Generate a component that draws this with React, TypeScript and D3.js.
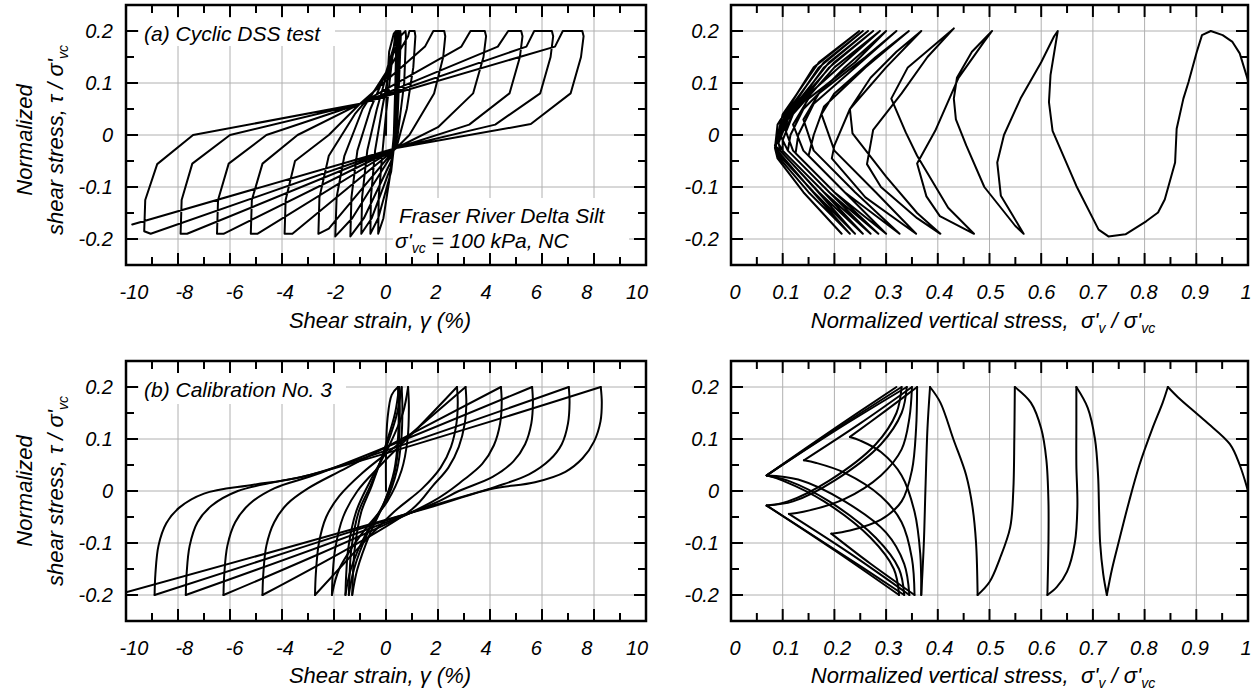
import React from "react";
import * as d3 from "d3";

type Pt = [number, number];

// ---------- axis ticks ----------
const strainMajor = [-10, -8, -6, -4, -2, 0, 2, 4, 6, 8, 10];
const strainMinor = [-9, -7, -5, -3, -1, 1, 3, 5, 7, 9];
const strainLabels = ["-10", "-8", "-6", "-4", "-2", "0", "2", "4", "6", "8", "10"];
const vertMajor = [0, 0.1, 0.2, 0.3, 0.4, 0.5, 0.6, 0.7, 0.8, 0.9, 1];
const vertMinor = [0.05, 0.15, 0.25, 0.35, 0.45, 0.55, 0.65, 0.75, 0.85, 0.95];
const vertLabels = ["0", "0.1", "0.2", "0.3", "0.4", "0.5", "0.6", "0.7", "0.8", "0.9", "1"];
const tauMajor = [-0.2, -0.1, 0, 0.1, 0.2];
const tauMinor = [-0.15, -0.05, 0.05, 0.15];
const tauLabels = ["-0.2", "-0.1", "0", "0.1", "0.2"];

// ---------- (a) Cyclic DSS test: shear strain (%) vs tau/sigma'vc ----------
const dssStrainHalfCycles: Pt[][] = [
  [[0, 0], [0.02, 0.08], [0.12, 0.16], [0.3, 0.195], [0.38, 0.2]],
  [[0.38, 0.2], [0.4, 0.19], [0.36, 0.1], [0.3, 0.0], [0.15, -0.08], [-0.1, -0.16], [-0.3, -0.19]],
  [[-0.3, -0.19], [-0.28, -0.12], [-0.15, -0.04], [0.0, 0.04], [0.2, 0.13], [0.35, 0.19], [0.42, 0.2]],
  [[0.42, 0.2], [0.44, 0.19], [0.4, 0.1], [0.36, 0.0], [0.2, -0.07], [-0.3, -0.16], [-0.6, -0.19]],
  [[-0.6, -0.19], [-0.58, -0.12], [-0.42, -0.03], [-0.15, 0.05], [0.15, 0.13], [0.38, 0.19], [0.46, 0.2]],
  [[0.46, 0.2], [0.48, 0.19], [0.44, 0.1], [0.38, 0.0], [0.2, -0.06], [-0.55, -0.16], [-0.95, -0.19]],
  [[-0.95, -0.19], [-0.92, -0.12], [-0.72, -0.03], [-0.35, 0.05], [0.1, 0.13], [0.4, 0.19], [0.5, 0.2]],
  [[0.5, 0.2], [0.52, 0.19], [0.47, 0.1], [0.4, 0.0], [0.2, -0.05], [-0.85, -0.16], [-1.37, -0.195]],
  [[-1.37, -0.195], [-1.33, -0.12], [-1.1, -0.03], [-0.6, 0.05], [0.0, 0.12], [0.42, 0.19], [0.55, 0.2]],
  [[0.55, 0.2], [0.57, 0.19], [0.5, 0.1], [0.42, 0.0], [0.2, -0.04], [-1.3, -0.16], [-1.95, -0.195]],
  [[-1.95, -0.195], [-1.9, -0.12], [-1.6, -0.04], [-0.9, 0.05], [0.0, 0.12], [0.55, 0.19], [0.75, 0.2]],
  [[0.75, 0.2], [0.77, 0.19], [0.7, 0.1], [0.45, 0.0], [0.3, -0.03], [-2.2, -0.18], [-2.6, -0.19]],
  [[-2.6, -0.19], [-2.56, -0.12], [-2.2, -0.04], [-1.2, 0.04], [-0.2, 0.1], [0.85, 0.19], [0.9, 0.2], [1.1, 0.2]],
  [[1.1, 0.2], [1.13, 0.19], [1.05, 0.13], [0.8, 0.05], [0.4, -0.025], [-3.6, -0.19], [-3.9, -0.19]],
  [[-3.9, -0.19], [-3.86, -0.125], [-3.5, -0.05], [-2.2, 0.0], [-1.0, 0.06], [1.5, 0.17], [1.82, 0.2], [2.24, 0.2]],
  [[2.24, 0.2], [2.28, 0.19], [2.2, 0.15], [1.85, 0.08], [0.9, 0.0], [0.4, -0.025], [-4.95, -0.19], [-5.2, -0.19]],
  [[-5.2, -0.19], [-5.16, -0.125], [-4.75, -0.055], [-3.4, 0.0], [-1.0, 0.06], [2.9, 0.17], [3.25, 0.2], [3.8, 0.2]],
  [[3.8, 0.2], [3.85, 0.19], [3.75, 0.15], [3.35, 0.08], [2.0, 0.015], [0.4, -0.025], [-6.25, -0.19], [-6.5, -0.19]],
  [[-6.5, -0.19], [-6.46, -0.125], [-6.05, -0.055], [-4.6, 0.0], [-1.0, 0.06], [4.3, 0.17], [4.7, 0.2], [5.2, 0.2]],
  [[5.2, 0.2], [5.25, 0.19], [5.15, 0.15], [4.75, 0.08], [3.2, 0.02], [0.4, -0.025], [-7.65, -0.19], [-7.9, -0.19]],
  [[-7.9, -0.19], [-7.86, -0.125], [-7.45, -0.055], [-6.0, 0.0], [-1.0, 0.06], [5.4, 0.17], [5.7, 0.2], [6.38, 0.2]],
  [[6.38, 0.2], [6.43, 0.19], [6.33, 0.15], [5.93, 0.08], [4.2, 0.02], [0.4, -0.025], [-9.05, -0.19], [-9.3, -0.185]],
  [[-9.3, -0.185], [-9.26, -0.125], [-8.8, -0.056], [-7.42, 0.0], [-1.0, 0.06], [6.5, 0.17], [6.8, 0.2], [7.55, 0.2]],
  [[7.55, 0.2], [7.6, 0.19], [7.5, 0.15], [7.1, 0.08], [5.57, 0.021], [0.4, -0.025], [-9.76, -0.172]],
];

// ---------- (a) Cyclic DSS test: sigma'v/sigma'vc vs tau/sigma'vc ----------
const dssPathHalfCycles: Pt[][] = [
  [[1.0, 0.0], [1.0, 0.105], [0.984, 0.157], [0.97, 0.179], [0.951, 0.192], [0.928, 0.2]],
  [[0.928, 0.2], [0.911, 0.192], [0.901, 0.16], [0.885, 0.102], [0.875, 0.07], [0.862, 0.012], [0.859, -0.053], [0.839, -0.124], [0.826, -0.149], [0.803, -0.166], [0.763, -0.191], [0.73, -0.195]],
  [[0.73, -0.195], [0.711, -0.182], [0.668, -0.098], [0.622, 0.008], [0.615, 0.063], [0.618, 0.115], [0.632, 0.2]],
  [[0.632, 0.2], [0.625, 0.19], [0.6, 0.14], [0.56, 0.07], [0.528, 0.0], [0.515, -0.053], [0.522, -0.117], [0.545, -0.155], [0.566, -0.19]],
  [[0.566, -0.19], [0.55, -0.175], [0.49, -0.1], [0.455, -0.02], [0.435, 0.03], [0.431, 0.07], [0.437, 0.11], [0.466, 0.16], [0.505, 0.2]],
  [[0.505, 0.2], [0.49, 0.18], [0.44, 0.11], [0.395, 0.008], [0.36, -0.055], [0.378, -0.118], [0.404, -0.156], [0.47, -0.19]],
  [[0.47, -0.19], [0.42, -0.14], [0.36, -0.04], [0.338, 0.005], [0.31, 0.07], [0.342, 0.13], [0.39, 0.17], [0.431, 0.205]],
  [[0.431, 0.205], [0.38, 0.15], [0.33, 0.08], [0.275, 0.01], [0.263, -0.056], [0.29, -0.1], [0.36, -0.16], [0.405, -0.19]],
  [[0.405, -0.19], [0.36, -0.15], [0.3, -0.08], [0.235, 0.003], [0.23, 0.05], [0.27, 0.11], [0.32, 0.16], [0.368, 0.2]],
  [[0.368, 0.2], [0.3, 0.13], [0.23, 0.05], [0.2, -0.02], [0.195, -0.045], [0.26, -0.12], [0.358, -0.19]],
  [[0.358, -0.19], [0.28, -0.11], [0.2, -0.03], [0.175, 0.04], [0.2, 0.08], [0.28, 0.15], [0.344, 0.2]],
  [[0.344, 0.2], [0.26, 0.13], [0.18, 0.055], [0.16, 0.0], [0.15, -0.04], [0.22, -0.11], [0.326, -0.19]],
  [[0.326, -0.19], [0.24, -0.11], [0.16, -0.03], [0.14, 0.03], [0.17, 0.08], [0.26, 0.15], [0.32, 0.2]],
  [[0.32, 0.2], [0.24, 0.13], [0.16, 0.06], [0.13, 0.0], [0.125, -0.035], [0.2, -0.11], [0.3, -0.19]],
  [[0.3, -0.19], [0.22, -0.11], [0.14, -0.03], [0.12, 0.02], [0.15, 0.07], [0.24, 0.14], [0.3, 0.2]],
  [[0.3, 0.2], [0.22, 0.13], [0.14, 0.05], [0.115, 0.0], [0.11, -0.03], [0.19, -0.11], [0.285, -0.19]],
  [[0.285, -0.19], [0.2, -0.11], [0.12, -0.03], [0.105, 0.01], [0.13, 0.06], [0.22, 0.14], [0.288, 0.2]],
  [[0.288, 0.2], [0.2, 0.13], [0.12, 0.04], [0.1, -0.01], [0.1, -0.03], [0.18, -0.11], [0.27, -0.19]],
  [[0.27, -0.19], [0.18, -0.1], [0.11, -0.03], [0.095, 0.0], [0.12, 0.05], [0.2, 0.14], [0.275, 0.2]],
  [[0.275, 0.2], [0.19, 0.13], [0.11, 0.03], [0.092, -0.015], [0.095, -0.03], [0.17, -0.11], [0.255, -0.19]],
  [[0.255, -0.19], [0.17, -0.1], [0.1, -0.03], [0.088, -0.01], [0.11, 0.04], [0.19, 0.14], [0.265, 0.2]],
  [[0.265, 0.2], [0.18, 0.13], [0.1, 0.02], [0.087, -0.02], [0.09, -0.035], [0.16, -0.11], [0.24, -0.19]],
  [[0.24, -0.19], [0.16, -0.1], [0.095, -0.03], [0.085, -0.02], [0.105, 0.04], [0.18, 0.14], [0.255, 0.2]],
  [[0.255, 0.2], [0.17, 0.13], [0.095, 0.02], [0.085, -0.024], [0.09, -0.04], [0.15, -0.11], [0.23, -0.19]],
  [[0.23, -0.19], [0.15, -0.1], [0.09, -0.03], [0.085, -0.024], [0.1, 0.04], [0.17, 0.14], [0.248, 0.2]],
  [[0.248, 0.2], [0.16, 0.13], [0.09, 0.02], [0.085, -0.025], [0.09, -0.045], [0.14, -0.11], [0.214, -0.19]],
];

// ---------- (b) Calibration No. 3: shear strain vs tau/sigma'vc ----------
const calStrainHalfCycles: Pt[][] = [
  [[0, 0], [0, 0.07], [0.06, 0.14], [0.22, 0.185], [0.46, 0.2]],
  [[0.46, 0.2], [0.49, 0.16], [0.46, 0.1], [0.32, 0.04], [-0.05, -0.02], [-0.6, -0.08], [-1.1, -0.15], [-1.3, -0.2]],
  [[-1.3, -0.2], [-1.27, -0.16], [-1.2, -0.11], [-0.95, -0.04], [-0.55, 0.01], [0.0, 0.09], [0.35, 0.15], [0.5, 0.2]],
  [[0.5, 0.2], [0.53, 0.16], [0.5, 0.1], [0.35, 0.04], [-0.05, -0.02], [-0.7, -0.08], [-1.23, -0.15], [-1.43, -0.2]],
  [[-1.43, -0.2], [-1.4, -0.16], [-1.33, -0.11], [-1.05, -0.04], [-0.6, 0.01], [0.05, 0.09], [0.43, 0.15], [0.6, 0.2]],
  [[0.6, 0.2], [0.63, 0.16], [0.59, 0.1], [0.42, 0.04], [0.0, -0.02], [-0.75, -0.08], [-1.35, -0.15], [-1.56, -0.2]],
  [[-1.56, -0.2], [-1.53, -0.16], [-1.45, -0.11], [-1.15, -0.04], [-0.65, 0.015], [0.15, 0.09], [0.65, 0.15], [0.85, 0.2]],
  [[0.85, 0.2], [0.88, 0.16], [0.83, 0.1], [0.6, 0.04], [0.05, -0.02], [-0.9, -0.08], [-1.8, -0.15], [-2.08, -0.2]],
  [[-2.08, -0.2], [-2.05, -0.16], [-1.95, -0.11], [-1.65, -0.05], [-1.1, 0.0], [-0.2, 0.05], [1.2, 0.12], [2.73, 0.2]],
  [[2.73, 0.2], [2.76, 0.17], [2.71, 0.13], [2.5, 0.085], [2.1, 0.045], [1.4, 0.005], [0.2, -0.045], [-2.73, -0.2]],
  [[-2.73, -0.2], [-2.7, -0.16], [-2.58, -0.1], [-2.3, -0.05], [-1.8, -0.01], [-0.9, 0.035], [0.6, 0.095], [3.06, 0.2]],
  [[3.06, 0.2], [3.09, 0.17], [3.03, 0.13], [2.8, 0.085], [2.4, 0.045], [1.8, 0.01], [1.0, -0.035], [-4.75, -0.2]],
  [[-4.75, -0.2], [-4.72, -0.16], [-4.6, -0.105], [-4.3, -0.06], [-3.8, -0.025], [-3.0, 0.005], [-1.5, 0.045], [4.42, 0.2]],
  [[4.42, 0.2], [4.45, 0.17], [4.39, 0.13], [4.15, 0.088], [3.7, 0.052], [3.0, 0.022], [1.8, -0.02], [-6.25, -0.2]],
  [[-6.25, -0.2], [-6.22, -0.16], [-6.1, -0.105], [-5.8, -0.06], [-5.25, -0.025], [-4.3, 0.005], [-2.5, 0.035], [5.62, 0.2]],
  [[5.62, 0.2], [5.65, 0.17], [5.59, 0.13], [5.35, 0.09], [4.9, 0.057], [4.1, 0.027], [2.8, 0.0], [1.8, -0.025], [-7.7, -0.2]],
  [[-7.7, -0.2], [-7.67, -0.16], [-7.55, -0.105], [-7.25, -0.06], [-6.7, -0.028], [-5.7, 0.0], [-4.2, 0.018], [-3.0, 0.03], [7.03, 0.2]],
  [[7.03, 0.2], [7.06, 0.17], [7.0, 0.13], [6.76, 0.09], [6.3, 0.06], [5.5, 0.032], [4.2, 0.008], [1.8, -0.028], [-8.9, -0.2]],
  [[-8.9, -0.2], [-8.87, -0.16], [-8.75, -0.105], [-8.45, -0.062], [-7.95, -0.032], [-7.0, -0.005], [-5.1, 0.012], [-3.25, 0.027], [8.26, 0.2]],
  [[8.26, 0.2], [8.3, 0.17], [8.25, 0.134], [8.0, 0.095], [7.56, 0.063], [6.9, 0.037], [5.73, 0.017], [4.04, 0.004], [1.8, -0.03], [-10, -0.195]],
];

// ---------- (b) Calibration No. 3: stress path (smooth pieces) ----------
const calPathPieces: Pt[][] = [
  [[1.0, 0.0], [0.984, 0.05], [0.965, 0.09], [0.918, 0.134], [0.865, 0.18], [0.845, 0.2]],
  [[0.845, 0.2], [0.835, 0.17], [0.815, 0.12], [0.79, 0.05], [0.77, -0.02], [0.752, -0.09], [0.737, -0.15], [0.727, -0.2]],
  [[0.727, -0.2], [0.72, -0.16], [0.714, -0.1], [0.712, -0.04], [0.71, 0.03], [0.704, 0.1], [0.69, 0.16], [0.668, 0.2]],
  [[0.668, 0.2], [0.668, 0.13], [0.668, 0.05], [0.67, -0.03], [0.665, -0.1], [0.65, -0.155], [0.63, -0.185], [0.612, -0.2]],
  [[0.612, -0.2], [0.614, -0.1], [0.614, -0.02], [0.61, 0.06], [0.6, 0.12], [0.58, 0.17], [0.549, 0.2]],
  [[0.549, 0.2], [0.548, 0.1], [0.546, 0.0], [0.54, -0.07], [0.52, -0.13], [0.5, -0.175], [0.477, -0.2]],
  [[0.477, -0.2], [0.474, -0.1], [0.467, -0.03], [0.455, 0.03], [0.43, 0.1], [0.405, 0.17], [0.385, 0.2]],
  [[0.385, 0.2], [0.38, 0.12], [0.376, 0.0], [0.373, -0.1], [0.368, -0.2]],
  [[0.368, -0.2], [0.366, -0.12], [0.355, -0.04], [0.33, 0.03], [0.29, 0.075], [0.25, 0.097], [0.23, 0.104]],
  [[0.23, 0.104], [0.3, 0.155], [0.36, 0.2]],
  [[0.36, 0.2], [0.358, 0.12], [0.35, 0.04], [0.33, -0.02], [0.29, -0.055], [0.23, -0.076], [0.194, -0.082]],
  [[0.194, -0.082], [0.27, -0.14], [0.355, -0.2]],
  [[0.355, -0.2], [0.35, -0.13], [0.33, -0.06], [0.29, -0.01], [0.22, 0.035], [0.165, 0.054], [0.141, 0.059]],
  [[0.141, 0.059], [0.25, 0.13], [0.35, 0.2]],
  [[0.35, 0.2], [0.345, 0.14], [0.33, 0.08], [0.29, 0.03], [0.22, -0.015], [0.14, -0.04], [0.112, -0.044]],
  [[0.112, -0.044], [0.23, -0.12], [0.345, -0.2]],
  [[0.345, -0.2], [0.335, -0.14], [0.3, -0.08], [0.22, -0.02], [0.13, 0.022], [0.069, 0.03]],
  [[0.069, 0.03], [0.2, 0.115], [0.34, 0.2]],
  [[0.34, 0.2], [0.33, 0.15], [0.29, 0.09], [0.2, 0.02], [0.12, -0.02], [0.069, -0.028]],
  [[0.069, -0.028], [0.2, -0.112], [0.335, -0.2]],
  [[0.335, -0.2], [0.325, -0.15], [0.28, -0.09], [0.19, -0.02], [0.11, 0.02], [0.069, 0.03]],
  [[0.069, 0.03], [0.2, 0.117], [0.33, 0.2]],
  [[0.33, 0.2], [0.32, 0.15], [0.28, 0.09], [0.19, 0.02], [0.11, -0.02], [0.069, -0.028]],
  [[0.069, -0.028], [0.2, -0.114], [0.325, -0.2]],
  [[0.325, -0.2], [0.315, -0.15], [0.27, -0.09], [0.18, -0.02], [0.1, 0.02], [0.069, 0.03]],
  [[0.069, 0.03], [0.2, 0.12], [0.32, 0.2]],
];

const FONT = "'Liberation Sans', Arial, Helvetica, sans-serif";
const GRID = "#b0b0b0";

type PanelProps = {
  id: string;
  x0: number; x1: number; y0: number; y1: number;
  xDomain: [number, number];
  xMajor: number[]; xMinor: number[]; xLabels: string[];
  labelRange: [number, number];
  yLabelX: number;
  pieces: Pt[][];
  smooth: boolean;
  boxes?: { x: number; y: number; w: number; h: number }[];
  children?: React.ReactNode;
};

function Panel(p: PanelProps) {
  const xs = d3.scaleLinear().domain(p.xDomain).range([p.x0, p.x1]);
  const ys = d3.scaleLinear().domain([-0.25, 0.25]).range([p.y1, p.y0]);
  const xl = d3.scaleLinear().domain(p.xDomain).range(p.labelRange);
  const line = d3
    .line<Pt>()
    .x((d) => xs(d[0]))
    .y((d) => ys(d[1]))
    .curve(p.smooth ? d3.curveCatmullRom.alpha(0.5) : d3.curveLinear);
  const innerX = p.xMajor.filter((v) => v !== p.xDomain[0] && v !== p.xDomain[1]);
  const MJ = 12, MN = 8;
  return (
    <g>
      <defs>
        <clipPath id={p.id}>
          <rect x={p.x0} y={p.y0} width={p.x1 - p.x0} height={p.y1 - p.y0} />
        </clipPath>
      </defs>
      {innerX.map((v, i) => (
        <line key={"gx" + i} x1={xs(v)} x2={xs(v)} y1={p.y0} y2={p.y1} stroke={GRID} strokeWidth={1} />
      ))}
      {tauMajor.map((v, i) => (
        <line key={"gy" + i} x1={p.x0} x2={p.x1} y1={ys(v)} y2={ys(v)} stroke={GRID} strokeWidth={1} />
      ))}
      {(p.boxes || []).map((b, i) => (
        <rect key={"bx" + i} x={b.x} y={b.y} width={b.w} height={b.h} fill="#fff" />
      ))}
      <g clipPath={`url(#${p.id})`}>
        {p.pieces.map((pc, i) => (
          <path key={"pc" + i} d={line(pc) || ""} fill="none" stroke="#000" strokeWidth={2} strokeLinejoin="round" strokeLinecap="round" />
        ))}
      </g>
      {innerX.map((v, i) => (
        <g key={"tx" + i}>
          <line x1={xs(v)} x2={xs(v)} y1={p.y0} y2={p.y0 + MJ} stroke="#000" strokeWidth={2} />
          <line x1={xs(v)} x2={xs(v)} y1={p.y1} y2={p.y1 - MJ} stroke="#000" strokeWidth={2} />
        </g>
      ))}
      {p.xMinor.map((v, i) => (
        <g key={"tmx" + i}>
          <line x1={xs(v)} x2={xs(v)} y1={p.y0} y2={p.y0 + MN} stroke="#000" strokeWidth={2} />
          <line x1={xs(v)} x2={xs(v)} y1={p.y1} y2={p.y1 - MN} stroke="#000" strokeWidth={2} />
        </g>
      ))}
      {tauMajor.map((v, i) => (
        <g key={"ty" + i}>
          <line x1={p.x0} x2={p.x0 + MJ} y1={ys(v)} y2={ys(v)} stroke="#000" strokeWidth={2} />
          <line x1={p.x1} x2={p.x1 - MJ} y1={ys(v)} y2={ys(v)} stroke="#000" strokeWidth={2} />
        </g>
      ))}
      {tauMinor.map((v, i) => (
        <g key={"tmy" + i}>
          <line x1={p.x0} x2={p.x0 + MN} y1={ys(v)} y2={ys(v)} stroke="#000" strokeWidth={2} />
          <line x1={p.x1} x2={p.x1 - MN} y1={ys(v)} y2={ys(v)} stroke="#000" strokeWidth={2} />
        </g>
      ))}
      <rect x={p.x0} y={p.y0} width={p.x1 - p.x0} height={p.y1 - p.y0} fill="none" stroke="#000" strokeWidth={2.5} />
      {p.xMajor.map((v, i) => (
        <text key={"lx" + i} x={xl(v)} y={p.y1 + 34} textAnchor="middle" fontSize={20} fontStyle="italic" fontFamily={FONT}>
          {p.xLabels[i]}
        </text>
      ))}
      {tauMajor.map((v, i) => (
        <text key={"ly" + i} x={p.yLabelX} y={ys(v) + 7} textAnchor="end" fontSize={20} fontStyle="italic" fontFamily={FONT}>
          {tauLabels[i]}
        </text>
      ))}
      {p.children}
    </g>
  );
}

function YTitle({ cy }: { cy: number }) {
  return (
    <g fontFamily={FONT} fontStyle="italic" fontSize={22}>
      <text transform={`translate(32,${cy}) rotate(-90)`} textAnchor="middle">Normalized</text>
      <text transform={`translate(63,${cy}) rotate(-90)`} textAnchor="middle">
        shear stress, τ / σ'<tspan fontSize={14} dy={5}>vc</tspan>
      </text>
    </g>
  );
}

function StrainTitle({ y }: { y: number }) {
  return (
    <text x={380} y={y} textAnchor="middle" fontFamily={FONT} fontStyle="italic" fontSize={22}>
      Shear strain, γ (%)
    </text>
  );
}

function VertTitle({ y }: { y: number }) {
  return (
    <text x={983} y={y} textAnchor="middle" fontFamily={FONT} fontStyle="italic" fontSize={22}>
      Normalized vertical stress,{"\u00a0\u00a0"}σ'<tspan fontSize={14} dy={5}>v</tspan>
      <tspan dy={-5}> / σ'</tspan>
      <tspan fontSize={14} dy={5}>vc</tspan>
    </text>
  );
}

export default function App() {
  const L = { x0: 126, x1: 646 };
  const R = { x0: 731, x1: 1248 };
  const TOP = { y0: 5, y1: 265 };
  const BOT = { y0: 361, y1: 621 };
  const flat = (hc: Pt[][]) => [hc.flat() as Pt[]];
  return (
    <svg width={1257} height={692} style={{ position: "absolute", left: 0, top: 0, background: "#fff" }}>
      <rect x={0} y={0} width={1257} height={692} fill="#fff" />
      <Panel
        id="clipA1" {...L} {...TOP}
        xDomain={[-10, 10]} xMajor={strainMajor} xMinor={strainMinor} xLabels={strainLabels}
        labelRange={[134, 637]} yLabelX={113}
        pieces={flat(dssStrainHalfCycles)} smooth={false}
        boxes={[{ x: 139, y: 18, w: 196, h: 28 }, { x: 393, y: 198, w: 236, h: 57 }]}
      >
        <text x={144} y={41} fontFamily={FONT} fontStyle="italic" fontSize={21}>(a) Cyclic DSS test</text>
        <text x={399} y={223} fontFamily={FONT} fontStyle="italic" fontSize={21}>Fraser River Delta Silt</text>
        <text x={395} y={248} fontFamily={FONT} fontStyle="italic" fontSize={21}>
          σ'<tspan fontSize={14} dy={5}>vc</tspan><tspan dy={-5}> = 100 kPa, NC</tspan>
        </text>
      </Panel>
      <Panel
        id="clipA2" {...R} {...TOP}
        xDomain={[0, 1]} xMajor={vertMajor} xMinor={vertMinor} xLabels={vertLabels}
        labelRange={[735, 1246]} yLabelX={719}
        pieces={flat(dssPathHalfCycles)} smooth={false}
      />
      <Panel
        id="clipB1" {...L} {...BOT}
        xDomain={[-10, 10]} xMajor={strainMajor} xMinor={strainMinor} xLabels={strainLabels}
        labelRange={[134, 637]} yLabelX={113}
        pieces={calStrainHalfCycles} smooth={true}
        boxes={[{ x: 139, y: 373, w: 207, h: 31 }]}
      >
        <text x={144} y={397} fontFamily={FONT} fontStyle="italic" fontSize={21}>(b) Calibration No. 3</text>
      </Panel>
      <Panel
        id="clipB2" {...R} {...BOT}
        xDomain={[0, 1]} xMajor={vertMajor} xMinor={vertMinor} xLabels={vertLabels}
        labelRange={[735, 1246]} yLabelX={719}
        pieces={calPathPieces} smooth={true}
      />
      <YTitle cy={140} />
      <YTitle cy={491} />
      <StrainTitle y={328} />
      <VertTitle y={328} />
      <StrainTitle y={683} />
      <VertTitle y={683} />
    </svg>
  );
}
